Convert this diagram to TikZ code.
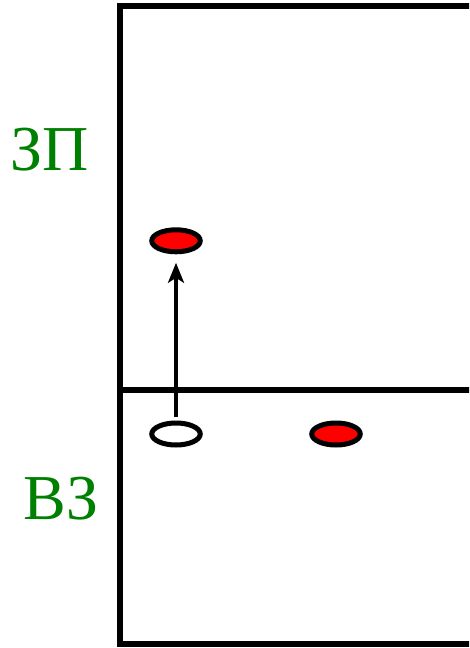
\documentclass[tikz,border=0pt]{standalone}
\usepackage{fontspec}
\setmainfont{Liberation Serif}
\usetikzlibrary{shapes.geometric,arrows.meta}
\definecolor{lblgreen}{HTML}{008000}
\begin{document}
\begin{tikzpicture}[x=1pt,y=-1pt,
  frame/.style={line width=6pt},
  dot/.style={ellipse,draw,line width=5pt,minimum width=48.5pt,minimum height=22pt,inner sep=0pt,outer sep=0pt},
  reddot/.style={dot,fill=red},
  whitedot/.style={dot,fill=white},
  lbl/.style={text=lblgreen,font=\fontsize{64}{70}\selectfont,anchor=base,inner sep=0pt},
  move/.style={line width=3.5pt,-{Stealth[length=20pt,width=16pt,inset=5pt]}}]
\useasboundingbox (0,0) rectangle (469,648);
\clip (0,0) rectangle (469,648);
\draw[frame] (560,6.3) -- (119.8,6.3) -- (119.8,643.5) -- (560,643.5);
\draw[frame] (119.8,390.3) -- (560,390.3);
\node[lbl] (zp) at (49.5,170) {ЗП};
\node[lbl] (vz) at (61,519.5) {ВЗ};
\node[reddot] (a) at (176,240.8) {};
\node[whitedot] (b) at (176,434) {};
\node[reddot] (c) at (336,434) {};
\draw[move,shorten <=6pt,shorten >=11pt] (b.north) -- (a.south);
\end{tikzpicture}
\end{document}
